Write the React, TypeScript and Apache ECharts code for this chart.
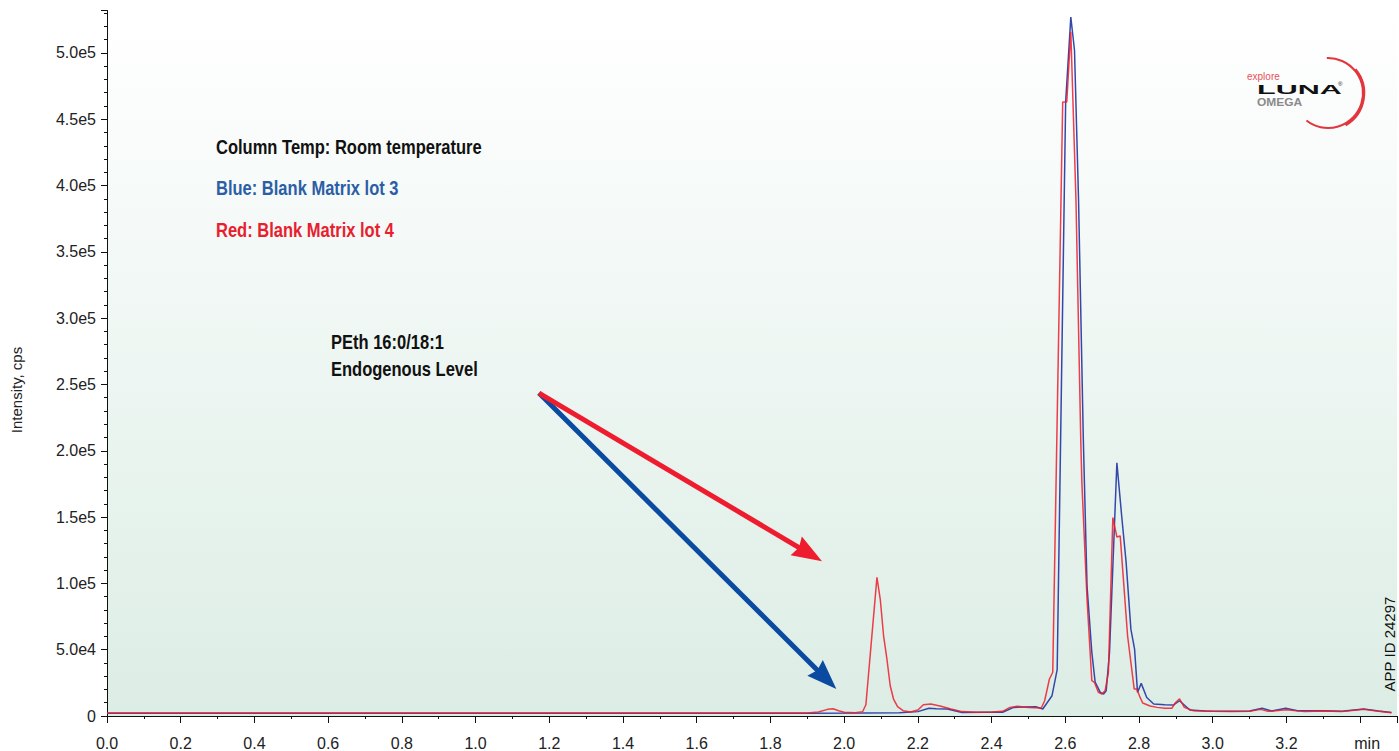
import React, { useEffect, useRef } from "react";
import * as echarts from "echarts";

// ---- Data ----
const blueTimes = [
  0, 1.9, 2.05, 2.15, 2.2, 2.23, 2.25, 2.28, 2.32, 2.38, 2.43, 2.46, 2.49, 2.52, 2.539, 2.564, 2.578,
  2.601, 2.615, 2.625, 2.636, 2.649, 2.659, 2.672, 2.681, 2.695, 2.704, 2.711, 2.72, 2.74, 2.753,
  2.765, 2.778, 2.788, 2.796, 2.806, 2.821, 2.84, 2.87, 2.894, 2.91, 2.938, 2.98, 3.05, 3.1, 3.134,
  3.16, 3.198, 3.23, 3.3, 3.35, 3.41, 3.45, 3.485,
];
const blueValues = [
  2000, 2000, 2200, 2400, 3300, 5800, 5500, 5300, 2600, 2800, 2800, 6500, 6800, 7000, 5300, 15300, 35000,
  463000, 527000, 502000, 389000, 208000, 98000, 48000, 25600, 17800, 16600, 19000, 48000, 191000, 150800,
  116000, 65500, 50500, 17800, 24600, 14000, 9000, 8500, 8300, 11500, 4500, 3800, 3600, 3800, 5800,
  3800, 5800, 4000, 4000, 3500, 5300, 3800, 2600,
];

const redTimes = [
  0, 1.9, 1.93, 1.955, 1.97, 1.985, 2.0, 2.03, 2.05, 2.059, 2.089, 2.098, 2.107, 2.116, 2.125, 2.134,
  2.145, 2.16, 2.18, 2.2, 2.215, 2.235, 2.26, 2.29, 2.32, 2.36, 2.4, 2.43, 2.45, 2.47, 2.5, 2.535,
  2.544, 2.557, 2.566, 2.593, 2.604, 2.615, 2.629, 2.642, 2.645, 2.659, 2.672, 2.679, 2.69, 2.699,
  2.708, 2.717, 2.729, 2.74, 2.749, 2.769, 2.787, 2.794, 2.803, 2.81, 2.83, 2.849, 2.87, 2.889, 2.898,
  2.91, 2.923, 2.948, 3.0, 3.05, 3.1, 3.13, 3.15, 3.2, 3.25, 3.3, 3.35, 3.41, 3.45, 3.485,
];
const redValues = [
  2200, 2200, 3000, 5000, 5500, 4000, 2800, 2500, 3200, 8500, 104500, 88000, 60500, 43000, 22800, 12800,
  7000, 4000, 3000, 4500, 8500, 9000, 7500, 5300, 3300, 2800, 3000, 3500, 6500, 7300, 6500, 6000,
  11500, 27900, 33000, 463000, 463000, 516000, 389000, 208000, 176000, 88000, 26600, 25400, 17800, 16600,
  19000, 32900, 149600, 135000, 135800, 60500, 20300, 20300, 14000, 9800, 7500, 6500, 5800, 5800, 9800,
  13000, 6500, 4000, 3500, 3300, 3500, 5000, 3500, 4800, 3300, 3800, 3300, 5000, 3500, 2500,
];

// Annotation arrows (data coordinates; end = centre of arrow head)
const arrowStart = [1.172, 243500];
const redArrowEnd = [1.905, 122500];
const blueArrowEnd = [1.95, 28300];

const xUnitLabel = "min";
const yAxisTitle = "Intensity, cps";
const noteTitle = "Column Temp: Room temperature";
const noteBlue = "Blue: Blank Matrix lot 3";
const noteRed = "Red: Blank Matrix lot 4";
const peakLine1 = "PEth 16:0/18:1";
const peakLine2 = "Endogenous Level";
const appId = "APP ID 24297";

const RED = "#ee1c2b";
const BLUE = "#3448ab";
const FONT = '"Liberation Sans", Arial, Helvetica, sans-serif';
const ARROW_HEAD = "path://M10,0 L20,28 L10,25 L0,28 Z";

const zip = (t: number[], v: number[]) => t.map((x, i) => [x, v[i]]);

export default function App() {
  const ref = useRef<HTMLDivElement>(null);
  useEffect(() => {
    document.body.style.margin = "0";
    if (!ref.current) return;
    const chart = echarts.init(ref.current, undefined, { renderer: "svg" });
    const boldNote = (text: string, x: number, y: number, fill: string) => ({
      type: "text",
      x,
      y,
      scaleX: 0.87,
      scaleY: 1.05,
      style: {
        text,
        fill,
        fontFamily: FONT,
        fontSize: 19,
        fontWeight: "bold",
        align: "left",
        verticalAlign: "middle",
      },
    });
    chart.setOption({
      animation: false,
      textStyle: { fontFamily: FONT },
      grid: {
        left: 107,
        right: 2,
        top: 10.5,
        bottom: 34,
        show: true,
        borderWidth: 0,
        backgroundColor: new echarts.graphic.LinearGradient(0, 0, 0, 1, [
          { offset: 0, color: "#ffffff" },
          { offset: 1, color: "#dcede5" },
        ]),
      },
      xAxis: {
        type: "value",
        min: 0,
        max: 3.5,
        interval: 0.2,
        axisLine: { show: true, onZero: false, lineStyle: { color: "#111", width: 1 } },
        axisTick: { show: true, length: 7, lineStyle: { color: "#111" } },
        minorTick: { show: true, splitNumber: 2, length: 3, lineStyle: { color: "#111" } },
        splitLine: { show: false },
        axisLabel: {
          fontSize: 16,
          color: "#222",
          margin: 19,
          showMaxLabel: false,
          formatter: (v: number) => (Math.abs(v - 3.4) < 1e-6 ? "{m|" + xUnitLabel + "}" : v.toFixed(1)),
          rich: { m: { fontSize: 16, color: "#222", padding: [0, 0, 0, 14] } },
        },
      },
      yAxis: {
        type: "value",
        min: 0,
        max: 532000,
        interval: 50000,
        axisLine: { show: true, lineStyle: { color: "#111", width: 1 } },
        axisTick: { show: true, length: 6, lineStyle: { color: "#111" } },
        minorTick: { show: true, splitNumber: 5, length: 3, lineStyle: { color: "#111" } },
        splitLine: { show: false },
        axisLabel: {
          fontSize: 16,
          color: "#222",
          margin: 11,
          showMaxLabel: false,
          formatter: (v: number) => (v === 0 ? "0" : v.toExponential(1).replace("e+", "e")),
        },
      },
      series: [
        {
          type: "line",
          data: zip(blueTimes, blueValues),
          showSymbol: false,
          symbol: "none",
          lineStyle: { color: BLUE, width: 1.5 },
          z: 2,
          markLine: {
            silent: true,
            animation: false,
            symbol: ["none", ARROW_HEAD],
            symbolSize: [22, 30],
            label: { show: false },
            lineStyle: { color: "#0a4aa0", width: 5, type: "solid" },
            data: [[{ coord: arrowStart }, { coord: blueArrowEnd }]],
          },
        },
        {
          type: "line",
          data: zip(redTimes, redValues),
          showSymbol: false,
          symbol: "none",
          lineStyle: { color: RED, width: 1.5, opacity: 0.85 },
          z: 3,
          markLine: {
            silent: true,
            animation: false,
            symbol: ["none", ARROW_HEAD],
            symbolSize: [22, 30],
            label: { show: false },
            lineStyle: { color: "#ee1c2e", width: 5, type: "solid" },
            data: [[{ coord: arrowStart }, { coord: redArrowEnd }]],
          },
        },
      ],
      graphic: [
        {
          type: "text",
          x: 16,
          y: 390,
          rotation: Math.PI / 2,
          style: {
            text: yAxisTitle,
            fill: "#222",
            fontFamily: FONT,
            fontSize: 15,
            align: "center",
            verticalAlign: "middle",
          },
        },
        boldNote(noteTitle, 216, 147, "#111"),
        boldNote(noteBlue, 216, 188, "#2c5ea6"),
        boldNote(noteRed, 216, 230, "#e8202e"),
        boldNote(peakLine1, 331, 342, "#111"),
        boldNote(peakLine2, 331, 369, "#111"),
        {
          type: "text",
          x: 1389,
          y: 644,
          rotation: Math.PI / 2,
          style: {
            text: appId,
            fill: "#111",
            fontFamily: FONT,
            fontSize: 15,
            align: "center",
            verticalAlign: "middle",
          },
        },
        // logo
        {
          type: "arc",
          shape: { cx: 1328, cy: 93, r: 35, startAngle: (-92 * Math.PI) / 180, endAngle: (128 * Math.PI) / 180, clockwise: true },
          style: { stroke: "#e2353d", lineWidth: 2, fill: "none" },
        },
        {
          type: "arc",
          shape: { cx: 1327, cy: 93, r: 37, startAngle: (-40 * Math.PI) / 180, endAngle: (60 * Math.PI) / 180, clockwise: true },
          style: { stroke: "#e2353d", lineWidth: 2.5, fill: "none" },
        },
        {
          type: "text",
          x: 1247,
          y: 76,
          style: { text: "explore", fill: "#e8505a", fontFamily: FONT, fontSize: 10, align: "left", verticalAlign: "middle" },
        },
        {
          type: "text",
          x: 1257,
          y: 90,
          scaleX: 2.35,
          style: { text: "LUNA", fill: "#111", fontFamily: FONT, fontSize: 13, fontWeight: "bold", align: "left", verticalAlign: "middle" },
        },
        {
          type: "text",
          x: 1338,
          y: 84,
          style: { text: "®", fill: "#111", fontFamily: FONT, fontSize: 6, align: "left", verticalAlign: "middle" },
        },
        {
          type: "text",
          x: 1257,
          y: 102,
          scaleX: 1.2,
          style: { text: "OMEGA", fill: "#8a8a8a", fontFamily: FONT, fontSize: 10, fontWeight: "bold", align: "left", verticalAlign: "middle" },
        },
      ],
    });
    return () => chart.dispose();
  }, []);
  return <div ref={ref} style={{ width: 1399, height: 751 }} />;
}
